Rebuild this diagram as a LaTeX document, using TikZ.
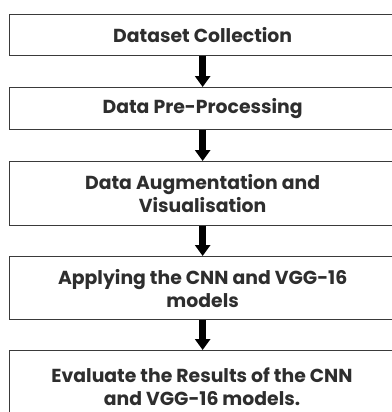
\documentclass[tikz,border=0pt]{standalone}
\usepackage{fontspec}
\setmainfont{Poppins}
\usetikzlibrary{arrows.meta}
\definecolor{boxline}{HTML}{3A3A3A}
\definecolor{txt}{HTML}{2E2E2E}
\begin{document}
\begin{tikzpicture}[x=1bp,y=-1bp,
  box/.style={draw=boxline, line width=1.3bp, fill=white, minimum width=386bp, anchor=north west, inner sep=0pt},
  lbl/.style={text=txt, font=\bfseries\fontsize{18.9}{23}\selectfont, align=center, inner sep=0pt},
  flow/.style={-{Triangle[width=15bp,length=11bp]}, line width=7bp, draw=black}]
\fill[white] (0,0) rectangle (392,412);
\useasboundingbox (0,0) rectangle (392,412);
\clip (0,0) rectangle (392,412);
\node[box, minimum height=41bp] (b1) at (9,14) {};
\node[box, minimum height=42bp] (b2) at (9,87) {};
\node[box, minimum height=64bp] (b3) at (9,161) {};
\node[box, minimum height=63bp] (b4) at (9,256) {};
\node[box, minimum height=80bp] (b5) at (9,350) {};
\node[lbl] (t1) at (b1.center) {Dataset Collection};
\node[lbl] (t2) at (b2.center) {Data Pre-Processing};
\node[lbl] (t3) at (b3.center) {Data Augmentation and\\Visualisation};
\node[lbl] (t4) at (b4.center) {Applying the CNN and VGG-16\\models};
\node[lbl] (t5) at (202,387) {Evaluate the Results of the CNN\\and VGG-16 models.};
\draw[flow] (b1.south) -- (b2.north);
\draw[flow] (b2.south) -- (b3.north);
\draw[flow] (b3.south) -- (b4.north);
\draw[flow] (b4.south) -- (b5.north);
\end{tikzpicture}
\end{document}
